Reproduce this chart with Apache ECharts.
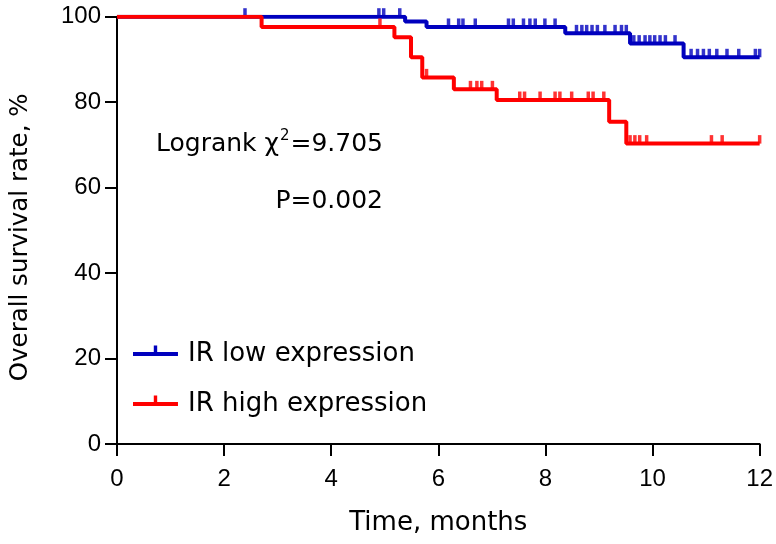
<!DOCTYPE html>
<html>
<head>
<meta charset="utf-8">
<script src="https://cdn.jsdelivr.net/npm/echarts@6/dist/echarts.min.js"></script>
<style>
html,body{margin:0;padding:0;background:#fff;}
#chart{width:776px;height:544px;}
</style>
</head>
<body>
<div id="chart"></div>
<script>
// ---- data ----
const xTicks = [0, 2, 4, 6, 8, 10, 12];
const yTicks = [0, 20, 40, 60, 80, 100];

const lowName = 'IR low expression';
const lowTimes = [0, 5.38, 5.78, 8.37, 9.58, 10.58, 12];
const lowSurv  = [100, 98.9, 97.6, 96.1, 93.7, 90.5, 90.5];
const lowCensor = [2.39, 4.89, 4.98, 5.28, 6.19, 6.38, 6.46, 6.69, 7.31, 7.40, 7.59, 7.71, 7.81, 7.99, 8.18,
  8.58, 8.68, 8.77, 8.87, 8.97, 9.11, 9.30, 9.42, 9.51, 9.65, 9.75, 9.86, 9.95, 10.04, 10.14, 10.24, 10.42,
  10.72, 10.84, 10.95, 11.06, 11.20, 11.39, 11.61, 11.92, 12.0];

const highName = 'IR high expression';
const highTimes = [0, 2.70, 5.18, 5.49, 5.70, 6.29, 7.09, 9.19, 9.51, 12];
const highSurv  = [100, 97.6, 95.2, 90.5, 85.8, 83.0, 80.5, 75.4, 70.3, 70.3];
const highCensor = [4.91, 5.78, 6.60, 6.72, 6.81, 7.01, 7.52, 7.61, 7.90, 8.18, 8.27, 8.49, 8.80, 8.89, 9.09,
  9.58, 9.67, 9.76, 9.89, 11.10, 11.30, 12.0];

const statLine1 = ['Logrank χ', '2', '=9.705'];
const statLine2 = 'P=0.002';

// ---- helpers ----
function stepPairs(times, surv){ return times.map((t,i)=>[t, surv[i]]); }
function survAt(times, surv, t){
  let v = surv[0];
  for (let i=0;i<times.length;i++){ if (times[i] <= t) v = surv[i]; }
  return v;
}
function censorPairs(times, surv, cs){ return cs.map(t=>[t, survAt(times, surv, t)]); }

const BLUE = '#0000BE';
const RED = '#FF0000';
const FONT = 'DejaVu Sans';
const TICKFONT = 'Liberation Sans';
const legendIcon = 'path://M0,6.5 L45,6.5 L45,10.5 L0,10.5 Z M20.8,0 L24.2,0 L24.2,6.5 L20.8,6.5 Z M0,17 L0.01,17 L0.01,17.01 Z';

const chart = echarts.init(document.getElementById('chart'), null, {renderer:'canvas'});
chart.setOption({
  animation: false,
  backgroundColor: '#fff',
  grid: {left: 116, right: 16, top: 16.7, bottom: 100, containLabel: false},
  xAxis: {
    type: 'value', min: xTicks[0], max: xTicks[xTicks.length-1], interval: 2,
    name: 'Time, months', nameLocation: 'middle', nameGap: 66,
    nameTextStyle: {fontFamily: FONT, fontSize: 26, color: '#000'},
    axisLine: {lineStyle: {color: '#000', width: 2}},
    axisTick: {show: true, inside: false, length: 12, lineStyle: {color: '#000', width: 2}},
    axisLabel: {fontFamily: TICKFONT, fontSize: 24, color: '#000', margin: 23},
    splitLine: {show: false}
  },
  yAxis: {
    type: 'value', min: yTicks[0], max: yTicks[yTicks.length-1], interval: 20,
    name: 'Overall survival rate, %', nameLocation: 'middle', nameGap: 84, nameRotate: 90,
    nameTextStyle: {fontFamily: FONT, fontSize: 24.5, color: '#000', padding: [0, 14, 0, 0]},
    axisLine: {lineStyle: {color: '#000', width: 2}},
    axisTick: {show: true, inside: false, length: 12, lineStyle: {color: '#000', width: 2}},
    axisLabel: {fontFamily: TICKFONT, fontSize: 24, color: '#000', margin: 16},
    splitLine: {show: false}
  },
  legend: {
    orient: 'vertical', left: 133, top: 338, padding: 0, itemGap: 18,
    itemWidth: 45, itemHeight: 17,
    icon: legendIcon,
    data: [lowName, highName],
    textStyle: {fontFamily: FONT, fontSize: 26, color: '#000', lineHeight: 32, padding: [0,0,0,5]}
  },
  series: [
    {name: lowName, type: 'line', step: 'end', symbol: 'none', data: stepPairs(lowTimes, lowSurv),
     lineStyle: {color: BLUE, width: 4}, itemStyle: {color: BLUE}, z: 2},
    {name: lowName, type: 'scatter', clip: false, symbol: 'rect', symbolSize: [3.5, 8.5], symbolOffset: [0, -4.25],
     data: censorPairs(lowTimes, lowSurv, lowCensor), itemStyle: {color: BLUE}, z: 2},
    {name: highName, type: 'line', step: 'end', symbol: 'none', data: stepPairs(highTimes, highSurv),
     lineStyle: {color: RED, width: 4}, itemStyle: {color: RED}, z: 3},
    {name: highName, type: 'scatter', clip: false, symbol: 'rect', symbolSize: [3.5, 8.5], symbolOffset: [0, -4.25],
     data: censorPairs(highTimes, highSurv, highCensor), itemStyle: {color: RED}, z: 3}
  ],
  graphic: [
    {type: 'text', right: 776-383, top: 129,
     style: {text: '{a|' + statLine1[0] + '}{s|' + statLine1[1] + '}{a|' + statLine1[2] + '}',
       rich: {a: {fontFamily: FONT, fontSize: 25, fill: '#000', lineHeight: 30},
              s: {fontFamily: FONT, fontSize: 15, fill: '#000', lineHeight: 30, verticalAlign: 'top', padding:[0,1,0,1]}}}},
    {type: 'text', right: 776-383, top: 189,
     style: {text: statLine2, fontFamily: FONT, fontSize: 25, fill: '#000'}}
  ]
});
</script>
</body>
</html>
